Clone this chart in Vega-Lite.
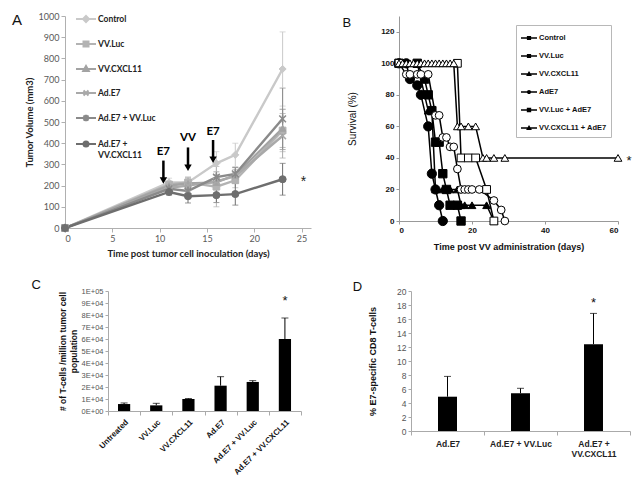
{
  "$schema": "https://vega.github.io/schema/vega-lite/v6.json",
  "background": "white",
  "padding": {"left": 12, "top": 8, "right": 4, "bottom": 4},
  "datasets": {
    "growth": [
      {"series": "Control", "day": 0, "vol": 0, "lo": null, "hi": null},
      {"series": "Control", "day": 11, "vol": 215, "lo": 200, "hi": 235},
      {"series": "Control", "day": 13, "vol": 215, "lo": 195, "hi": 240},
      {"series": "Control", "day": 16, "vol": 305, "lo": 250, "hi": 360},
      {"series": "Control", "day": 18, "vol": 345, "lo": 290, "hi": 400},
      {"series": "Control", "day": 23, "vol": 750, "lo": 575, "hi": 925},
      {"series": "VV.Luc", "day": 0, "vol": 0, "lo": null, "hi": null},
      {"series": "VV.Luc", "day": 11, "vol": 205, "lo": 190, "hi": 220},
      {"series": "VV.Luc", "day": 13, "vol": 215, "lo": 190, "hi": 240},
      {"series": "VV.Luc", "day": 16, "vol": 195, "lo": 100, "hi": 290},
      {"series": "VV.Luc", "day": 18, "vol": 225, "lo": 190, "hi": 260},
      {"series": "VV.Luc", "day": 23, "vol": 460, "lo": 360, "hi": 560},
      {"series": "VV.CXCL11", "day": 0, "vol": 0, "lo": null, "hi": null},
      {"series": "VV.CXCL11", "day": 11, "vol": 200, "lo": 185, "hi": 215},
      {"series": "VV.CXCL11", "day": 13, "vol": 210, "lo": 185, "hi": 235},
      {"series": "VV.CXCL11", "day": 16, "vol": 215, "lo": 180, "hi": 250},
      {"series": "VV.CXCL11", "day": 18, "vol": 250, "lo": 215, "hi": 285},
      {"series": "VV.CXCL11", "day": 23, "vol": 470, "lo": 380, "hi": 560},
      {"series": "Ad.E7", "day": 0, "vol": 0, "lo": null, "hi": null},
      {"series": "Ad.E7", "day": 11, "vol": 190, "lo": 175, "hi": 205},
      {"series": "Ad.E7", "day": 13, "vol": 200, "lo": 175, "hi": 225},
      {"series": "Ad.E7", "day": 16, "vol": 220, "lo": 190, "hi": 250},
      {"series": "Ad.E7", "day": 18, "vol": 245, "lo": 215, "hi": 275},
      {"series": "Ad.E7", "day": 23, "vol": 435, "lo": 330, "hi": 540},
      {"series": "Ad.E7 + VV.Luc", "day": 0, "vol": 0, "lo": null, "hi": null},
      {"series": "Ad.E7 + VV.Luc", "day": 11, "vol": 185, "lo": 170, "hi": 200},
      {"series": "Ad.E7 + VV.Luc", "day": 13, "vol": 175, "lo": 150, "hi": 200},
      {"series": "Ad.E7 + VV.Luc", "day": 16, "vol": 240, "lo": 215, "hi": 265},
      {"series": "Ad.E7 + VV.Luc", "day": 18, "vol": 255, "lo": 225, "hi": 285},
      {"series": "Ad.E7 + VV.Luc", "day": 23, "vol": 515, "lo": 370, "hi": 660},
      {"series": "Ad.E7 + VV.CXCL11", "day": 0, "vol": 0, "lo": null, "hi": null},
      {"series": "Ad.E7 + VV.CXCL11", "day": 11, "vol": 170, "lo": 155, "hi": 185},
      {"series": "Ad.E7 + VV.CXCL11", "day": 13, "vol": 150, "lo": 118, "hi": 182},
      {"series": "Ad.E7 + VV.CXCL11", "day": 16, "vol": 155, "lo": 120, "hi": 190},
      {"series": "Ad.E7 + VV.CXCL11", "day": 18, "vol": 160, "lo": 108, "hi": 212},
      {"series": "Ad.E7 + VV.CXCL11", "day": 23, "vol": 230, "lo": 155, "hi": 305}
    ],
    "arrows": [
      {"lab": "E7", "day": 10.4, "ytext": 360, "ytop": 318, "yhead": 224},
      {"lab": "VV", "day": 13.0, "ytext": 423, "ytop": 380, "yhead": 284},
      {"lab": "E7", "day": 15.65, "ytext": 455, "ytop": 415, "yhead": 322}
    ],
    "notesA": [{"day": 25.2, "vol": 232, "t": "*"}],
    "letterA": [{"day": -5.6, "vol": 981, "t": "A"}],
    "surv": [
      {"series": "Control", "day": 0, "s": 100}, {"series": "Control", "day": 2, "s": 100},
      {"series": "Control", "day": 3, "s": 90}, {"series": "Control", "day": 5, "s": 86},
      {"series": "Control", "day": 6, "s": 80}, {"series": "Control", "day": 8, "s": 60},
      {"series": "Control", "day": 9, "s": 30}, {"series": "Control", "day": 10, "s": 20},
      {"series": "Control", "day": 11, "s": 10}, {"series": "Control", "day": 12, "s": 0},
      {"series": "VV.Luc", "day": 0, "s": 100}, {"series": "VV.Luc", "day": 5, "s": 100},
      {"series": "VV.Luc", "day": 7, "s": 90}, {"series": "VV.Luc", "day": 8, "s": 80},
      {"series": "VV.Luc", "day": 9, "s": 70}, {"series": "VV.Luc", "day": 10, "s": 50},
      {"series": "VV.Luc", "day": 11, "s": 50}, {"series": "VV.Luc", "day": 12, "s": 30},
      {"series": "VV.Luc", "day": 13, "s": 20}, {"series": "VV.Luc", "day": 14, "s": 10},
      {"series": "VV.Luc", "day": 16, "s": 10}, {"series": "VV.Luc", "day": 17, "s": 0},
      {"series": "VV.CXCL11", "day": 0, "s": 100}, {"series": "VV.CXCL11", "day": 5, "s": 100},
      {"series": "VV.CXCL11", "day": 7, "s": 80}, {"series": "VV.CXCL11", "day": 8, "s": 70},
      {"series": "VV.CXCL11", "day": 9, "s": 70}, {"series": "VV.CXCL11", "day": 10, "s": 20},
      {"series": "VV.CXCL11", "day": 12, "s": 20}, {"series": "VV.CXCL11", "day": 14, "s": 20},
      {"series": "VV.CXCL11", "day": 16, "s": 20}, {"series": "VV.CXCL11", "day": 17, "s": 10},
      {"series": "VV.CXCL11", "day": 18, "s": 10}, {"series": "VV.CXCL11", "day": 20, "s": 10},
      {"series": "VV.CXCL11", "day": 24, "s": 10}, {"series": "VV.CXCL11", "day": 26, "s": 0},
      {"series": "AdE7", "day": 0, "s": 100}, {"series": "AdE7", "day": 2, "s": 93},
      {"series": "AdE7", "day": 3, "s": 93}, {"series": "AdE7", "day": 5, "s": 93},
      {"series": "AdE7", "day": 6, "s": 93}, {"series": "AdE7", "day": 8, "s": 93},
      {"series": "AdE7", "day": 10, "s": 67}, {"series": "AdE7", "day": 11, "s": 67},
      {"series": "AdE7", "day": 12, "s": 53}, {"series": "AdE7", "day": 13, "s": 53},
      {"series": "AdE7", "day": 14, "s": 47}, {"series": "AdE7", "day": 15, "s": 47},
      {"series": "AdE7", "day": 16, "s": 33}, {"series": "AdE7", "day": 17, "s": 20},
      {"series": "AdE7", "day": 18, "s": 20}, {"series": "AdE7", "day": 19, "s": 20},
      {"series": "AdE7", "day": 20, "s": 20}, {"series": "AdE7", "day": 22, "s": 20},
      {"series": "AdE7", "day": 26, "s": 13}, {"series": "AdE7", "day": 28, "s": 7},
      {"series": "AdE7", "day": 29, "s": 0},
      {"series": "VV.Luc + AdE7", "day": 0, "s": 100}, {"series": "VV.Luc + AdE7", "day": 16, "s": 100},
      {"series": "VV.Luc + AdE7", "day": 17, "s": 40}, {"series": "VV.Luc + AdE7", "day": 19, "s": 40},
      {"series": "VV.Luc + AdE7", "day": 21, "s": 40}, {"series": "VV.Luc + AdE7", "day": 24, "s": 20},
      {"series": "VV.Luc + AdE7", "day": 26, "s": 0},
      {"series": "VV.CXCL11 + AdE7", "day": 0, "s": 100}, {"series": "VV.CXCL11 + AdE7", "day": 1, "s": 100},
      {"series": "VV.CXCL11 + AdE7", "day": 2, "s": 100}, {"series": "VV.CXCL11 + AdE7", "day": 3, "s": 100},
      {"series": "VV.CXCL11 + AdE7", "day": 4, "s": 100}, {"series": "VV.CXCL11 + AdE7", "day": 5, "s": 100},
      {"series": "VV.CXCL11 + AdE7", "day": 6, "s": 100}, {"series": "VV.CXCL11 + AdE7", "day": 7, "s": 100},
      {"series": "VV.CXCL11 + AdE7", "day": 8, "s": 100}, {"series": "VV.CXCL11 + AdE7", "day": 9, "s": 100},
      {"series": "VV.CXCL11 + AdE7", "day": 10, "s": 100}, {"series": "VV.CXCL11 + AdE7", "day": 11, "s": 100},
      {"series": "VV.CXCL11 + AdE7", "day": 12, "s": 100}, {"series": "VV.CXCL11 + AdE7", "day": 13, "s": 100},
      {"series": "VV.CXCL11 + AdE7", "day": 14, "s": 100}, {"series": "VV.CXCL11 + AdE7", "day": 15, "s": 100},
      {"series": "VV.CXCL11 + AdE7", "day": 16, "s": 60}, {"series": "VV.CXCL11 + AdE7", "day": 17, "s": 60},
      {"series": "VV.CXCL11 + AdE7", "day": 19, "s": 60}, {"series": "VV.CXCL11 + AdE7", "day": 21, "s": 60},
      {"series": "VV.CXCL11 + AdE7", "day": 23, "s": 40}, {"series": "VV.CXCL11 + AdE7", "day": 24, "s": 40},
      {"series": "VV.CXCL11 + AdE7", "day": 26, "s": 40}, {"series": "VV.CXCL11 + AdE7", "day": 29, "s": 40},
      {"series": "VV.CXCL11 + AdE7", "day": 60, "s": 40}
    ],
    "starB": [{"day": 60, "s": 40, "t": "*"}],
    "letterB": [{"day": -15.5, "s": 125.5, "t": "B"}],
    "tcells": [
      {"group": "Untreated", "v": 5800, "hi": 6700},
      {"group": "VV.Luc", "v": 4700, "hi": 6400},
      {"group": "VV.CXCL11", "v": 10000, "hi": 10400},
      {"group": "Ad.E7", "v": 21100, "hi": 28600},
      {"group": "Ad.E7 + VV.Luc", "v": 24200, "hi": 25300},
      {"group": "Ad.E7 + VV.CXCL11", "v": 60000, "hi": 77500}
    ],
    "starC": [{"group": "Ad.E7 + VV.CXCL11", "v": 92000, "t": "*"}],
    "letterC": [{"group": "Untreated", "v": 100000, "t": "C"}],
    "cd8": [
      {"group": "Ad.E7", "v": 4.9, "hi": 7.8},
      {"group": "Ad.E7 + VV.Luc", "v": 5.4, "hi": 6.1},
      {"group": "Ad.E7 + VV.CXCL11", "v": 12.4, "hi": 16.8}
    ],
    "starD": [{"group": "Ad.E7 + VV.CXCL11", "v": 18.3, "t": "*"}]
  },
  "concat": [
    {
      "concat": [
        {
          "width": 246,
          "height": 212,
          "layer": [
            {
              "data": {"name": "growth"},
              "mark": {"type": "line", "strokeWidth": 2.4},
              "encoding": {
                "x": {"field": "day", "type": "quantitative", "scale": {"domain": [0, 25]},
                  "axis": {"values": [0, 5, 10, 15, 20, 25], "tickCount": 30, "labelOverlap": false, "title": "Time post tumor cell inoculation (days)", "labelFont": "Lato", "labelFontSize": 9, "labelColor": "#595959", "titleFont": "Lato", "titleFontSize": 9.5, "titleFontWeight": "bold", "titleColor": "#222", "titlePadding": 5, "tickSize": 4, "domainColor": "#b0b0b0", "tickColor": "#b0b0b0"}},
                "y": {"field": "vol", "type": "quantitative", "scale": {"domain": [0, 1000]},
                  "axis": {"values": [0, 100, 200, 300, 400, 500, 600, 700, 800, 900, 1000], "tickCount": 30, "format": "d", "labelOverlap": false, "title": "Tumor Volume (mm3)", "labelFont": "Lato", "labelFontSize": 9, "labelColor": "#595959", "titleFont": "Lato", "titleFontSize": 9.5, "titleFontWeight": "bold", "titleColor": "#222", "titlePadding": 4, "tickSize": 4, "domainColor": "#b0b0b0", "tickColor": "#b0b0b0"}},
                "color": {"field": "series", "type": "nominal",
                  "scale": {"domain": ["Control", "VV.Luc", "VV.CXCL11", "Ad.E7", "Ad.E7 + VV.Luc", "Ad.E7 + VV.CXCL11"], "range": ["#c9c9c9", "#b3b3b3", "#a3a3a3", "#a9a9a9", "#8a8a8a", "#6e6e6e"]},
                  "legend": {
                    "title": null, "orient": "none", "legendX": 10, "legendY": -8, "direction": "vertical", "padding": 0,
                    "labelFont": "Lato", "labelFontSize": 8.5, "labelFontWeight": "bold", "labelColor": "#222", "labelOffset": 1,
                    "symbolSize": 400, "symbolStrokeWidth": 2, "rowPadding": 7,
                    "labelExpr": "datum.label == 'Ad.E7 + VV.CXCL11' ? ['Ad.E7 +', 'VV.CXCL11'] : datum.label",
                    "encode": {
                      "symbols": {"update": {
                        "shape": {"signal": "datum.value == 'Control' ? 'M-1,0H1M0,-0.3L0.3,0L0,0.3L-0.3,0Z' : datum.value == 'VV.Luc' ? 'M-1,0H1M-0.25,-0.25H0.25V0.25H-0.25Z' : datum.value == 'VV.CXCL11' ? 'M-1,0H1M0,-0.3L0.28,0.2H-0.28Z' : datum.value == 'Ad.E7' ? 'M-1,0H1M-0.25,-0.25L0.25,0.25M-0.25,0.25L0.25,-0.25' : datum.value == 'Ad.E7 + VV.Luc' ? 'M-1,0H1M-0.25,-0.25L0.25,0.25M-0.25,0.25L0.25,-0.25M0,-0.32V0.32' : 'M-1,0H1M0.25,0A0.25,0.25 0 1,1 -0.25,0A0.25,0.25 0 1,1 0.25,0Z'"},
                        "fill": {"signal": "datum.value == 'Control' ? '#c9c9c9' : datum.value == 'VV.Luc' ? '#b3b3b3' : datum.value == 'VV.CXCL11' ? '#a3a3a3' : datum.value == 'Ad.E7' ? '#a9a9a9' : datum.value == 'Ad.E7 + VV.Luc' ? '#8a8a8a' : '#6e6e6e'"},
                        "stroke": {"signal": "datum.value == 'Control' ? '#c9c9c9' : datum.value == 'VV.Luc' ? '#b3b3b3' : datum.value == 'VV.CXCL11' ? '#a3a3a3' : datum.value == 'Ad.E7' ? '#a9a9a9' : datum.value == 'Ad.E7 + VV.Luc' ? '#8a8a8a' : '#6e6e6e'"},
                        "strokeWidth": {"value": 2},
                        "opacity": {"value": 1}
                      }}
                    }
                  }}
              }
            },
            {
              "data": {"name": "growth"},
              "transform": [{"filter": "datum.lo != null"}],
              "mark": {"type": "errorbar", "ticks": {"size": 6}, "thickness": 1},
              "encoding": {
                "x": {"field": "day", "type": "quantitative", "title": "Time post tumor cell inoculation (days)"},
                "y": {"field": "lo", "type": "quantitative", "title": "Tumor Volume (mm3)"},
                "y2": {"field": "hi"},
                "color": {"field": "series", "type": "nominal"}
              }
            },
            {"data": {"name": "growth"}, "transform": [{"filter": "datum.series == 'Control'"}],
              "mark": {"type": "point", "shape": "diamond", "filled": true, "fill": "#c9c9c9", "stroke": "#c9c9c9", "strokeWidth": 1, "size": 50, "opacity": 1},
              "encoding": {"x": {"field": "day", "type": "quantitative"}, "y": {"field": "vol", "type": "quantitative"}}},
            {"data": {"name": "growth"}, "transform": [{"filter": "datum.series == 'VV.Luc'"}],
              "mark": {"type": "point", "shape": "square", "filled": true, "fill": "#b3b3b3", "stroke": "#b3b3b3", "strokeWidth": 1, "size": 45, "opacity": 1},
              "encoding": {"x": {"field": "day", "type": "quantitative"}, "y": {"field": "vol", "type": "quantitative"}}},
            {"data": {"name": "growth"}, "transform": [{"filter": "datum.series == 'VV.CXCL11'"}],
              "mark": {"type": "point", "shape": "triangle-up", "filled": true, "fill": "#a3a3a3", "stroke": "#a3a3a3", "strokeWidth": 1, "size": 45, "opacity": 1},
              "encoding": {"x": {"field": "day", "type": "quantitative"}, "y": {"field": "vol", "type": "quantitative"}}},
            {"data": {"name": "growth"}, "transform": [{"filter": "datum.series == 'Ad.E7'"}],
              "mark": {"type": "point", "shape": "M-1,-1L1,1M-1,1L1,-1", "filled": false, "stroke": "#a9a9a9", "strokeWidth": 1.5, "size": 45, "opacity": 1},
              "encoding": {"x": {"field": "day", "type": "quantitative"}, "y": {"field": "vol", "type": "quantitative"}}},
            {"data": {"name": "growth"}, "transform": [{"filter": "datum.series == 'Ad.E7 + VV.Luc'"}],
              "mark": {"type": "point", "shape": "M-1,-1L1,1M-1,1L1,-1M0,-1.3V1.3", "filled": false, "stroke": "#8a8a8a", "strokeWidth": 1.5, "size": 45, "opacity": 1},
              "encoding": {"x": {"field": "day", "type": "quantitative"}, "y": {"field": "vol", "type": "quantitative"}}},
            {"data": {"name": "growth"}, "transform": [{"filter": "datum.series == 'Ad.E7 + VV.CXCL11'"}],
              "mark": {"type": "point", "shape": "circle", "filled": true, "fill": "#6e6e6e", "stroke": "#6e6e6e", "strokeWidth": 1, "size": 50, "opacity": 1},
              "encoding": {"x": {"field": "day", "type": "quantitative"}, "y": {"field": "vol", "type": "quantitative"}}},
            {
              "data": {"name": "arrows"},
              "mark": {"type": "rule", "color": "#000", "strokeWidth": 2.5},
              "encoding": {
                "x": {"field": "day", "type": "quantitative"},
                "y": {"field": "ytop", "type": "quantitative"},
                "y2": {"field": "yhead"}
              }
            },
            {
              "data": {"name": "arrows"},
              "mark": {"type": "point", "shape": "triangle-down", "filled": true, "color": "#000", "size": 55, "opacity": 1},
              "encoding": {
                "x": {"field": "day", "type": "quantitative"},
                "y": {"field": "yhead", "type": "quantitative"}
              }
            },
            {
              "data": {"name": "arrows"},
              "mark": {"type": "text", "font": "Lato", "fontSize": 11.5, "fontWeight": "bold", "color": "#000"},
              "encoding": {
                "x": {"field": "day", "type": "quantitative"},
                "y": {"field": "ytext", "type": "quantitative"},
                "text": {"field": "lab"}
              }
            },
            {
              "data": {"name": "notesA"},
              "mark": {"type": "text", "fontSize": 14, "font": "Liberation Sans", "color": "#222", "dy": 3},
              "encoding": {
                "x": {"field": "day", "type": "quantitative"},
                "y": {"field": "vol", "type": "quantitative"},
                "text": {"field": "t"}
              }
            },
            {
              "data": {"name": "letterA"},
              "mark": {"type": "text", "fontSize": 15, "font": "Liberation Sans", "color": "#111", "align": "left", "baseline": "middle"},
              "encoding": {
                "x": {"field": "day", "type": "quantitative"},
                "y": {"field": "vol", "type": "quantitative"},
                "text": {"field": "t"}
              }
            }
          ]
        },
        {
          "width": 219,
          "height": 205,
          "layer": [
            {
              "data": {"name": "surv"},
              "mark": {"type": "line", "strokeWidth": 1.5},
              "encoding": {
                "x": {"field": "day", "type": "quantitative", "scale": {"domain": [0, 60]},
                  "axis": {"values": [0, 20, 40, 60], "tickCount": 30, "labelOverlap": false, "title": "Time post VV administration (days)", "labelFont": "Liberation Sans", "labelFontSize": 8, "labelFontWeight": "bold", "labelColor": "#111", "titleFont": "Liberation Sans", "titleFontSize": 9, "titleFontWeight": "bold", "titleColor": "#111", "titlePadding": 8, "tickSize": 3, "domainColor": "#999", "tickColor": "#999"}},
                "y": {"field": "s", "type": "quantitative", "scale": {"domain": [0, 128]},
                  "axis": {"values": [0, 20, 40, 60, 80, 100, 120], "tickCount": 30, "labelOverlap": false, "title": "Survival (%)", "labelFont": "Liberation Sans", "labelFontSize": 8, "labelFontWeight": "bold", "labelColor": "#111", "titleFont": "Liberation Sans", "titleFontSize": 10, "titleFontWeight": "normal", "titleColor": "#111", "titlePadding": 23, "tickSize": 3, "domainColor": "#999", "tickColor": "#999"}},
                "stroke": {"field": "series", "type": "nominal",
                  "scale": {"domain": ["Control", "VV.Luc", "VV.CXCL11", "AdE7", "VV.Luc + AdE7", "VV.CXCL11 + AdE7"], "range": ["#000", "#000", "#000", "#000", "#000", "#000"]},
                  "legend": {
                    "title": null, "orient": "none", "legendX": 117, "legendY": 9, "padding": 4, "strokeColor": "#b8b8b8", "direction": "vertical",
                    "labelFont": "Liberation Sans", "labelFontSize": 7.5, "labelFontWeight": "bold", "labelColor": "#111", "labelOffset": 1,
                    "symbolSize": 256, "rowPadding": 4,
                    "encode": {
                      "symbols": {"update": {
                        "shape": {"signal": "datum.value == 'Control' || datum.value == 'VV.Luc' ? 'M-1,0H1M-0.17,-0.17H0.17V0.17H-0.17Z' : datum.value == 'VV.CXCL11' || datum.value == 'VV.CXCL11 + AdE7' ? 'M-1,0H1M0,-0.2L0.2,0.15H-0.2Z' : datum.value == 'AdE7' ? 'M-1,0H1M0.17,0A0.17,0.17 0 1,1 -0.17,0A0.17,0.17 0 1,1 0.17,0Z' : 'M-1,0H1M-0.18,-0.18H0.18V0.18H-0.18Z'"},
                        "fill": {"signal": "datum.value == 'AdE7' || datum.value == 'VV.Luc + AdE7' || datum.value == 'VV.CXCL11 + AdE7' ? '#fff' : '#000'"},
                        "stroke": {"value": "#000"},
                        "strokeWidth": {"value": 1.5},
                        "opacity": {"value": 1}
                      }}
                    }
                  }}
              }
            },
            {"data": {"name": "surv"}, "transform": [{"filter": "datum.series == 'Control'"}],
              "mark": {"type": "point", "shape": "circle", "filled": true, "fill": "#000", "stroke": "#000", "strokeWidth": 1, "size": 85, "opacity": 1},
              "encoding": {"x": {"field": "day", "type": "quantitative"}, "y": {"field": "s", "type": "quantitative"}}},
            {"data": {"name": "surv"}, "transform": [{"filter": "datum.series == 'VV.Luc'"}],
              "mark": {"type": "point", "shape": "square", "filled": true, "fill": "#000", "stroke": "#000", "strokeWidth": 1, "size": 70, "opacity": 1},
              "encoding": {"x": {"field": "day", "type": "quantitative"}, "y": {"field": "s", "type": "quantitative"}}},
            {"data": {"name": "surv"}, "transform": [{"filter": "datum.series == 'VV.CXCL11'"}],
              "mark": {"type": "point", "shape": "triangle-up", "filled": true, "fill": "#000", "stroke": "#000", "strokeWidth": 1, "size": 60, "opacity": 1},
              "encoding": {"x": {"field": "day", "type": "quantitative"}, "y": {"field": "s", "type": "quantitative"}}},
            {"data": {"name": "surv"}, "transform": [{"filter": "datum.series == 'AdE7'"}],
              "mark": {"type": "point", "shape": "circle", "filled": true, "fill": "#fff", "stroke": "#000", "strokeWidth": 1, "size": 60, "opacity": 1},
              "encoding": {"x": {"field": "day", "type": "quantitative"}, "y": {"field": "s", "type": "quantitative"}}},
            {"data": {"name": "surv"}, "transform": [{"filter": "datum.series == 'VV.Luc + AdE7'"}],
              "mark": {"type": "point", "shape": "square", "filled": true, "fill": "#fff", "stroke": "#000", "strokeWidth": 1, "size": 60, "opacity": 1},
              "encoding": {"x": {"field": "day", "type": "quantitative"}, "y": {"field": "s", "type": "quantitative"}}},
            {"data": {"name": "surv"}, "transform": [{"filter": "datum.series == 'VV.CXCL11 + AdE7'"}],
              "mark": {"type": "point", "shape": "triangle-up", "filled": true, "fill": "#fff", "stroke": "#000", "strokeWidth": 1, "size": 60, "opacity": 1},
              "encoding": {"x": {"field": "day", "type": "quantitative"}, "y": {"field": "s", "type": "quantitative"}}},
            {
              "data": {"name": "starB"},
              "mark": {"type": "text", "fontSize": 13, "font": "Liberation Sans", "color": "#111", "dx": 11, "dy": 3},
              "encoding": {
                "x": {"field": "day", "type": "quantitative"},
                "y": {"field": "s", "type": "quantitative"},
                "text": {"field": "t"}
              }
            },
            {
              "data": {"name": "letterB"},
              "mark": {"type": "text", "fontSize": 13, "font": "Liberation Sans", "color": "#111", "align": "left", "baseline": "middle"},
              "encoding": {
                "x": {"field": "day", "type": "quantitative"},
                "y": {"field": "s", "type": "quantitative"},
                "text": {"field": "t"}
              }
            }
          ]
        }
      ],
      "columns": 2,
      "align": "none",
      "spacing": 31,
      "resolve": {
        "scale": {"color": "independent", "stroke": "independent"},
        "legend": {"color": "independent", "stroke": "independent"}
      }
    },
    {
      "hconcat": [
        {
          "width": 236,
          "height": 120,
          "data": {"name": "tcells"},
          "layer": [
            {
              "mark": {"type": "bar", "color": "#000", "width": {"band": 0.38}},
              "encoding": {
                "x": {"field": "group", "type": "nominal", "sort": null, "scale": {"paddingInner": 0, "paddingOuter": 0, "range": [43, 236]},
                  "axis": {"title": null, "labelAngle": -45, "labelFont": "Liberation Sans", "labelFontSize": 8, "labelFontWeight": "bold", "labelColor": "#111", "tickBand": "extent", "tickSize": 4, "domainColor": "#aaa", "tickColor": "#aaa", "labelPadding": 3}},
                "y": {"field": "v", "type": "quantitative", "scale": {"domain": [0, 100000]},
                  "axis": {"values": [0, 10000, 20000, 30000, 40000, 50000, 60000, 70000, 80000, 90000, 100000], "tickCount": 30, "labelOverlap": false, "offset": -43,
                    "labelExpr": "datum.value == 0 ? '0E+00' : datum.value >= 100000 ? '1E+05' : (datum.value / 10000) + 'E+04'",
                    "title": ["# of T-cells /million tumor cell", "population"], "labelFont": "Liberation Sans", "labelFontSize": 7.5, "labelColor": "#555", "titleFont": "Liberation Sans", "titleFontSize": 8.5, "titleFontWeight": "bold", "titleColor": "#111", "titlePadding": 3, "titleLineHeight": 11, "tickSize": 3, "domainColor": "#aaa", "tickColor": "#aaa"}}
              }
            },
            {
              "mark": {"type": "rule", "color": "#000", "strokeWidth": 1},
              "encoding": {
                "x": {"field": "group", "type": "nominal", "sort": null},
                "y": {"field": "v", "type": "quantitative"},
                "y2": {"field": "hi"}
              }
            },
            {
              "mark": {"type": "tick", "color": "#000", "size": 7, "thickness": 1},
              "encoding": {
                "x": {"field": "group", "type": "nominal", "sort": null},
                "y": {"field": "hi", "type": "quantitative"}
              }
            },
            {
              "data": {"name": "starC"},
              "mark": {"type": "text", "fontSize": 13, "font": "Liberation Sans", "color": "#111"},
              "encoding": {
                "x": {"field": "group", "type": "nominal", "sort": null},
                "y": {"field": "v", "type": "quantitative"},
                "text": {"field": "t"}
              }
            },
            {
              "data": {"name": "letterC"},
              "mark": {"type": "text", "fontSize": 13, "font": "Liberation Sans", "color": "#111", "align": "center", "baseline": "bottom", "dx": -88, "dy": 1},
              "encoding": {
                "x": {"field": "group", "type": "nominal", "sort": null},
                "y": {"field": "v", "type": "quantitative"},
                "text": {"field": "t"}
              }
            }
          ]
        },
        {
          "width": 219,
          "height": 140,
          "title": {"text": "D", "orient": "left", "anchor": "end", "angle": 0, "align": "right", "baseline": "middle", "frame": "bounds", "fontSize": 13, "font": "Liberation Sans", "fontWeight": "normal", "color": "#111", "offset": -6, "dx": -3},
          "data": {"name": "cd8"},
          "layer": [
            {
              "mark": {"type": "bar", "color": "#000", "width": {"band": 0.26}},
              "encoding": {
                "x": {"field": "group", "type": "nominal", "sort": null, "scale": {"paddingInner": 0, "paddingOuter": 0},
                  "axis": {"title": null, "labelAngle": 0, "labelFont": "Liberation Sans", "labelFontSize": 8.5, "labelFontWeight": "bold", "labelColor": "#222", "tickBand": "extent", "tickSize": 4, "domainColor": "#aaa", "tickColor": "#aaa", "labelPadding": 4,
                    "labelExpr": "datum.label == 'Ad.E7 + VV.CXCL11' ? ['Ad.E7 +', 'VV.CXCL11'] : datum.label"}},
                "y": {"field": "v", "type": "quantitative", "scale": {"domain": [0, 20]},
                  "axis": {"values": [0, 2, 4, 6, 8, 10, 12, 14, 16, 18, 20], "tickCount": 30, "format": "d", "labelOverlap": false, "title": "% E7-specific CD8 T-cells", "labelFont": "Liberation Sans", "labelFontSize": 8.5, "labelColor": "#555", "titleFont": "Liberation Sans", "titleFontSize": 9, "titleFontWeight": "bold", "titleColor": "#111", "titlePadding": 19, "tickSize": 3, "domainColor": "#aaa", "tickColor": "#aaa"}}
              }
            },
            {
              "mark": {"type": "rule", "color": "#000", "strokeWidth": 1},
              "encoding": {
                "x": {"field": "group", "type": "nominal", "sort": null},
                "y": {"field": "v", "type": "quantitative"},
                "y2": {"field": "hi"}
              }
            },
            {
              "mark": {"type": "tick", "color": "#000", "size": 7, "thickness": 1},
              "encoding": {
                "x": {"field": "group", "type": "nominal", "sort": null},
                "y": {"field": "hi", "type": "quantitative"}
              }
            },
            {
              "data": {"name": "starD"},
              "mark": {"type": "text", "fontSize": 13, "font": "Liberation Sans", "color": "#111"},
              "encoding": {
                "x": {"field": "group", "type": "nominal", "sort": null},
                "y": {"field": "v", "type": "quantitative"},
                "text": {"field": "t"}
              }
            }
          ]
        }
      ],
      "spacing": 50
    }
  ],
  "columns": 1,
  "align": "none",
  "spacing": 21,
  "config": {
    "view": {"stroke": null},
    "axis": {"grid": false}
  }
}
